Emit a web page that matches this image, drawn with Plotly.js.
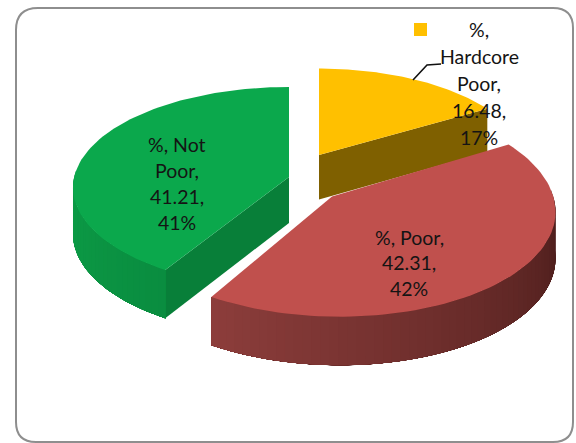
<!DOCTYPE html>
<html>
<head>
<meta charset="utf-8">
<script src="https://cdn.plot.ly/plotly-3.0.1.min.js"></script>
<style>html,body{margin:0;padding:0;background:#fff}#chart{width:576px;height:443px}</style>
</head>
<body>
<div id="chart"></div>
<script>
// Poverty status shares
const categories = ['Hardcore Poor', 'Poor', 'Not Poor'];
const shares = [16.48, 42.31, 41.21];
const percentLabels = ['17%', '42%', '41%'];

const labelLines = [
  ['%,', 'Hardcore', 'Poor,', '16.48,', '17%'],
  ['%, Poor,', '42.31,', '42%'],
  ['%, Not', 'Poor,', '41.21,', '41%']
];
const labelCentreX = [479, 409, 177];
const labelFirstY = [29, 237, 144];
const labelStepY = [27, 25.5, 26];

// Slice drawing styles and placement of each exploded wedge on the page
const wedgeStyle = [
  {ax: 319, ay: 155, s: 0.95, sy: 0.95, lean: 0, depth: 44.5, top: '#FFC000', face: '#7F6000', rim: ['#7F6000', '#7F6000']},
  {ax: 332, ay: 196.5, s: 1.02, sy: 1.07, lean: 8, depth: 46, top: '#C0504D', face: '#7A302E', rim: ['#8C3D3B', '#471B19']},
  {ax: 289, ay: 177, s: 0.99, sy: 0.99, lean: 0, depth: 46, top: '#0BA84C', face: '#087F39', rim: ['#0C9E47', '#0A8D40']}
];

// Tilted-plane view: horizontal and vertical radii and the perspective strength
const radiusX = 217, radiusY = 100.5, perspective = 0.105;

const total = shares.reduce((a, b) => a + b, 0);
const startAngles = [];
shares.reduce((sum, v, i) => { startAngles[i] = sum / total * 2 * Math.PI; return sum + v; }, 0);

function project(st, theta, r, lowered) {
  const X = r * Math.sin(theta), Y = -r * Math.cos(theta);
  const w = 1 - perspective * Y;
  return [
    st.ax + radiusX * st.s * X / w + st.lean * Y,
    st.ay + radiusY * st.sy * Y / w + (lowered ? st.depth / (0.5 + 0.5 * w) : 0)
  ];
}

function arc(st, from, to, lowered, n) {
  const pts = [];
  for (let k = 0; k <= n; k++) pts.push(project(st, from + (to - from) * k / n, 1, lowered));
  return pts;
}

function polyTrace(pts, color, lineWidth) {
  const xs = pts.map(p => p[0]).concat(pts[0][0]);
  const ys = pts.map(p => p[1]).concat(pts[0][1]);
  return {
    type: 'scatter', mode: 'lines', x: xs, y: ys, fill: 'toself', fillcolor: color,
    line: {color: color, width: lineWidth}, hoverinfo: 'skip', showlegend: false
  };
}

function hex(c) { return [1, 3, 5].map(i => parseInt(c.substr(i, 2), 16)); }
function mix(a, b, t) {
  const A = hex(a), B = hex(b);
  return 'rgb(' + A.map((v, i) => Math.round(v + (B[i] - v) * t)).join(',') + ')';
}

// Outer wall as overlapping strips so its shade runs smoothly along the rim;
// each strip reaches to the far end so no seams open up between neighbours
function rimStrips(st, from, to, strips) {
  const out = [];
  for (let j = 0; j < strips; j++) {
    const a = from + (to - from) * j / strips;
    const upper = arc(st, a, to, false, 40), lower = arc(st, a, to, true, 40).reverse();
    out.push(polyTrace(upper.concat(lower), mix(st.rim[0], st.rim[1], j / (strips - 1)), 0));
  }
  return out;
}

function cutFace(st, theta) {
  const apex = project(st, 0, 0, false), apexLow = project(st, 0, 0, true);
  return polyTrace([apex, project(st, theta, 1, false), project(st, theta, 1, true), apexLow], st.face, 0);
}

function topFace(st, from, to) {
  return polyTrace([project(st, 0, 0, false)].concat(arc(st, from, to, false, 80)), st.top, 0);
}

const traces = [];
const angle = i => startAngles[i];
const angleEnd = i => (i + 1 < shares.length ? startAngles[i + 1] : 2 * Math.PI);

// Hardcore Poor: far wedge, only the trailing cut wall shows
traces.push(cutFace(wedgeStyle[0], angleEnd(0)), topFace(wedgeStyle[0], angle(0), angleEnd(0)));

// Not Poor: cut wall plus the left part of the rim
traces.push(cutFace(wedgeStyle[2], angle(2)));
traces.push(...rimStrips(wedgeStyle[2], 1.52 * Math.PI, angle(2), 30));
traces.push(topFace(wedgeStyle[2], angle(2), angleEnd(2)));

// Poor: nearest wedge, rim runs from the right round to its left tip
const poorRim = Object.assign({}, wedgeStyle[1], {rim: wedgeStyle[1].rim.slice().reverse()});
traces.push(...rimStrips(poorRim, 0.48 * Math.PI, angleEnd(1), 60));
traces.push(topFace(wedgeStyle[1], angle(1), angleEnd(1)));

// Leader line for the small wedge's label
traces.push({
  type: 'scatter', mode: 'lines', x: [413, 427, 441], y: [80, 65, 64],
  line: {color: '#111', width: 1.6}, hoverinfo: 'skip', showlegend: false
});

const annotations = [];
labelLines.forEach((lines, i) => {
  lines.forEach((txt, k) => {
    annotations.push({
      x: labelCentreX[i], y: labelFirstY[i] + k * labelStepY[i], xref: 'x', yref: 'y',
      text: txt, showarrow: false, xanchor: 'center', yanchor: 'middle',
      font: {family: 'Lato, sans-serif', size: 19.5, color: '#141414'}
    });
  });
});

const layout = {
  width: 576, height: 443,
  margin: {l: 0, r: 0, t: 0, b: 0},
  paper_bgcolor: '#fff', plot_bgcolor: '#fff',
  xaxis: {range: [0, 576], visible: false, fixedrange: true},
  yaxis: {range: [443, 0], visible: false, fixedrange: true},
  showlegend: false,
  annotations: annotations,
  shapes: [
    {type: 'path', layer: 'below', xref: 'x', yref: 'y',
     path: 'M 38 8 L 553 8 Q 573 8 573 28 L 573 422 Q 573 442 553 442 L 36 442 Q 16 442 16 422 L 16 30 Q 16 8 38 8 Z',
     line: {color: '#8E8E8E', width: 2}, fillcolor: '#fff'},
    {type: 'rect', layer: 'above', xref: 'x', yref: 'y', x0: 414, x1: 427, y0: 23, y1: 36,
     fillcolor: '#FFC000', line: {width: 0}}
  ]
};

Plotly.newPlot('chart', traces, layout, {staticPlot: true, displayModeBar: false});
</script>
</body>
</html>
